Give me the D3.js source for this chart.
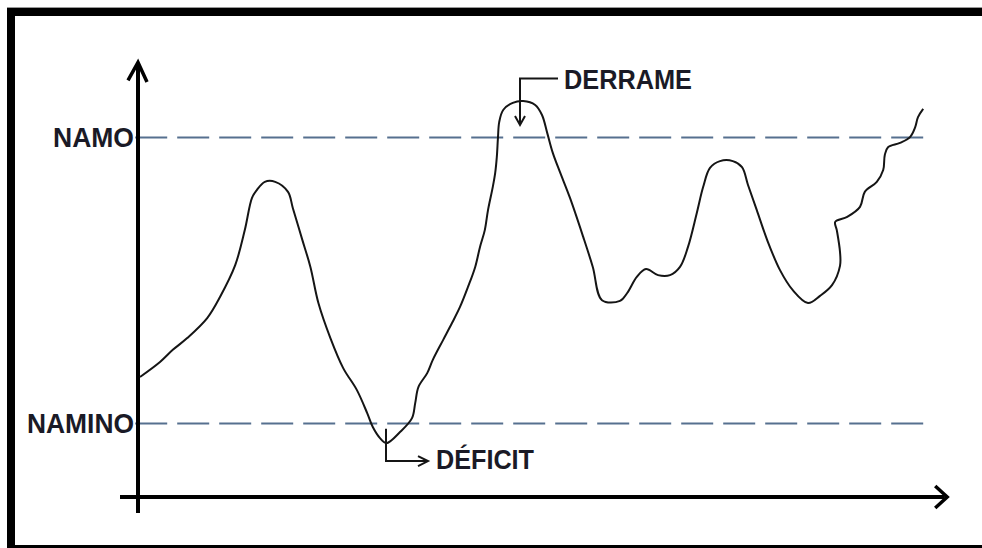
<!DOCTYPE html>
<meta charset="utf-8">
<style>
body { margin: 0; background: #fff; }
svg { display: block; }

.frame { fill: #000; }

.axis-line {
  fill: none;
  stroke: #000;
  stroke-width: 4px;
}

.arrow-head {
  fill: none;
  stroke: #000;
  stroke-width: 3.5px;
  stroke-linejoin: miter;
}

.level {
  stroke: #56708f;
  stroke-width: 2px;
  stroke-dasharray: 32,10;
}

.curve {
  fill: none;
  stroke: #151515;
  stroke-width: 2px;
  stroke-linejoin: round;
}

.pointer {
  fill: none;
  stroke: #151515;
  stroke-width: 2px;
}

.label {
  font-family: "Liberation Sans", Arial, sans-serif;
  font-weight: bold;
  font-size: 27px;
  fill: #1a1a26;
}
</style>
<body>
<script src="https://cdn.jsdelivr.net/npm/d3@7"></script>
<script>
// reservoir level vs time (hand drawn hydrograph)
var time = [0, 2.5, 4.1, 5.9, 8.4, 10, 11.9, 13.1, 14, 14.6, 15.6, 16.9, 18.5, 19.1, 20.3, 21.3,
  22.3, 23.8, 25.4, 27.1, 28.4, 29.1, 30, 30.8, 32.5, 34, 34.4, 34.8, 35.9, 36.6, 37.9, 39,
  40, 41, 41.9, 42.5, 43.1, 43.5, 44.1, 44.4, 44.6, 44.75, 44.9, 45.4, 46.6, 47.9, 49.4, 50.25,
  50.9, 51.6, 52.5, 53.75, 55.4, 56.6, 57.75, 60, 60.9, 62.1, 63.25, 64.75, 66.25, 67.5,
  68.5, 69.6, 70.4, 71.25, 72.5, 74.1, 75.25, 76, 77.1, 78.4, 80, 81.6, 83.5, 85, 86.5, 87.5,
  87.5, 87.1, 86.9, 88.4, 90, 90.6, 92.1, 92.9, 93.1, 93.5, 95, 96.25, 96.9, 97.25, 97.9];

var level = [33.0, 37.2, 40.6, 43.9, 49.5, 55.4, 64.3, 74.1, 83.1, 85.3, 87.6, 87.6, 84.8, 80.3, 71.3, 63.8,
  53.7, 43.9, 35.5, 29.4, 22.9, 19.0, 15.9, 14.5, 17.6, 21.5, 25.7, 30.2, 34.1, 37.8, 43.4, 48.1,
  52.6, 58.2, 63.8, 69.4, 74.1, 79.7, 86.2, 90.1, 94.5, 100.1, 104.3, 107.7, 109.7, 110.2, 109.1, 106.3,
  101.3, 95.7, 90.3, 83.1, 72.2, 63.8, 54.5, 54.3, 56.5, 61.0, 63.2, 61.5, 61.5, 63.8,
  69.4, 78.9, 86.2, 91.5, 93.4, 93.4, 91.7, 86.7, 79.7, 71.3, 62.9, 57.3, 53.7, 55.7, 58.7, 64.1,
  68.0, 74.1, 76.4, 77.8, 80.6, 84.8, 87.6, 90.9, 95.1, 97.3, 98.5, 100.1, 102.9, 105.7, 108.0];

var refNames = ["NAMO", "NAMINO"];
var refLevels = [100, 20];
var refLabelWidth = [81, 107];

var width = 982, height = 548;

var x = d3.scaleLinear().domain([0, 100]).range([140, 940]);
var y = d3.scaleLinear().domain([0, 100]).range([495, 137.5]);

var svg = d3.select("body").append("svg")
    .attr("width", width)
    .attr("height", height);

// picture frame
svg.append("rect").attr("x", 7).attr("y", 7).attr("width", width - 7).attr("height", 1).attr("fill", "#999");
svg.append("rect").attr("class", "frame").attr("x", 7).attr("y", 8).attr("width", width - 7).attr("height", 8);
svg.append("rect").attr("class", "frame").attr("x", 7).attr("y", 8).attr("width", 8).attr("height", height - 8);
svg.append("rect").attr("class", "frame").attr("x", 7).attr("y", 545).attr("width", width - 7).attr("height", 3);

// reference levels
svg.selectAll(".level")
    .data(refLevels)
  .enter().append("line")
    .attr("class", "level")
    .attr("x1", x(-0.6))
    .attr("x2", x(99))
    .attr("y1", function(d) { return y(d); })
    .attr("y2", function(d) { return y(d); });

// axes
var ax0 = x(-0.25), ay0 = y(-0.55);
svg.append("line").attr("class", "axis-line")
    .attr("x1", ax0).attr("x2", ax0)
    .attr("y1", y(120.5)).attr("y2", y(-5));
svg.append("line").attr("class", "axis-line")
    .attr("x1", x(-2.5)).attr("x2", x(100.6))
    .attr("y1", ay0).attr("y2", ay0);

svg.append("path").attr("class", "arrow-head")
    .attr("d", "M" + (ax0 - 10) + "," + y(116) + "L" + ax0 + "," + y(121) + "L" + (ax0 + 9) + "," + y(115.5));
svg.append("path").attr("class", "arrow-head")
    .attr("d", "M" + x(99.4) + "," + (ay0 - 11) + "L" + x(100.9) + "," + ay0 + "L" + x(99.4) + "," + (ay0 + 11));

// hydrograph
var line = d3.line()
    .x(function(d) { return x(d[0]); })
    .y(function(d) { return y(d[1]); })
    .curve(d3.curveCatmullRom.alpha(0.5));

svg.append("path")
    .datum(time.map(function(t, i) { return [t, level[i]]; }))
    .attr("class", "curve")
    .attr("d", line);

// level labels
svg.selectAll(".ref-label")
    .data(refNames)
  .enter().append("text")
    .attr("class", "label")
    .attr("x", function(d, i) { return x(0) - 6 - refLabelWidth[i]; })
    .attr("y", function(d, i) { return y(refLevels[i]) + 9; })
    .attr("textLength", function(d, i) { return refLabelWidth[i]; })
    .attr("lengthAdjust", "spacingAndGlyphs")
    .text(function(d) { return d; });

// DERRAME pointer (spill, above NAMO)
var dx = x(47.5);
svg.append("path").attr("class", "pointer")
    .attr("d", "M" + x(52.25) + "," + y(116.5) + "H" + dx + "V" + y(103.5));
svg.append("path").attr("class", "pointer")
    .attr("d", "M" + (dx - 5) + "," + y(106) + "L" + dx + "," + y(103.5) + "L" + (dx + 5) + "," + y(106));
svg.append("text").attr("class", "label")
    .attr("x", x(53)).attr("y", y(113.5))
    .attr("textLength", 128).attr("lengthAdjust", "spacingAndGlyphs")
    .text("DERRAME");

// DÉFICIT pointer (deficit, below NAMINO)
var fx = x(30.75), fy = y(9.5);
svg.append("path").attr("class", "pointer")
    .attr("d", "M" + fx + "," + y(18.5) + "V" + fy + "H" + x(36));
svg.append("path").attr("class", "pointer")
    .attr("d", "M" + x(34.75) + "," + (fy - 5) + "L" + x(36) + "," + fy + "L" + x(34.75) + "," + (fy + 5));
svg.append("text").attr("class", "label")
    .attr("x", x(37)).attr("y", y(7.3))
    .attr("textLength", 98).attr("lengthAdjust", "spacingAndGlyphs")
    .text("DÉFICIT");
</script>
